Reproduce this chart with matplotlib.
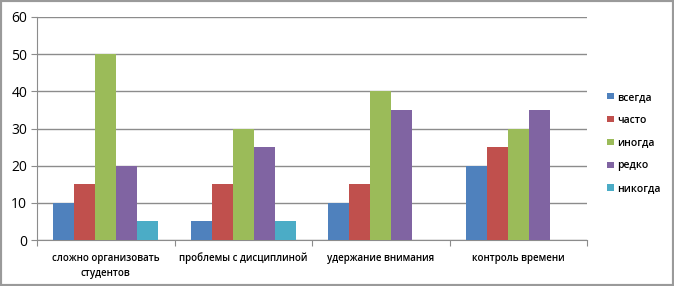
import numpy as np
import matplotlib.pyplot as plt
from matplotlib.patches import Rectangle

# data
categories = ["сложно организовать\nстудентов", "проблемы с дисциплиной",
              "удержание внимания", "контроль времени"]
series = ["всегда", "часто", "иногда", "редко", "никогда"]
vsegda = [10, 5, 10, 20]
chasto = [15, 15, 15, 25]
inogda = [50, 30, 40, 30]
redko = [20, 25, 35, 35]
nikogda = [5, 5, 0, 0]
colors = ["#4F81BD", "#C0504D", "#9BBB59", "#8064A2", "#4BACC6"]

plt.rcParams['font.family'] = ['Open Sans', 'DejaVu Sans']

fig = plt.figure(figsize=(6.74, 2.86), dpi=100)
ax = fig.add_axes([37/674, 46/286, 550/674, 223/286])

x = np.arange(len(categories))
w = 0.153
for k, vals in enumerate([vsegda, chasto, inogda, redko, nikogda]):
    ax.bar(x + (k - 2) * w, vals, w, color=colors[k], label=series[k], zorder=3)

ax.set_xlim(-0.5, len(categories) - 0.5)
ax.set_ylim(0, 60)
ax.set_yticks(range(0, 61, 10))
ax.yaxis.grid(True, color="#8c8c8c", lw=1, zorder=0)
ax.tick_params(axis="y", length=4, color="#8c8c8c", labelsize=10, pad=3)

# group boundaries as major ticks, labels on minor ticks
ax.set_xticks(np.arange(len(categories) + 1) - 0.5)
ax.set_xticklabels([])
ax.set_xticks(x, minor=True)
ax.set_xticklabels(categories, minor=True, fontsize=7, fontweight="semibold",
                   linespacing=1.6)
ax.tick_params(axis="x", which="major", length=4, color="#8c8c8c")
ax.tick_params(axis="x", which="minor", length=0, pad=9)

for s in ["top", "right"]:
    ax.spines[s].set_visible(False)
for s in ["left", "bottom"]:
    ax.spines[s].set_color("#8c8c8c")

fig.legend(loc="center left", bbox_to_anchor=(598/674, 0.5), frameon=False,
           handlelength=0.6, handleheight=0.6, handletextpad=0.3,
           labelspacing=1.15, prop={"weight": "semibold", "size": 7.5})

fig.patches.append(Rectangle((0, 0), 1, 1, transform=fig.transFigure,
                             fill=False, ec="#9a9a9a", lw=3))

fig.savefig("out.png", dpi=100)
